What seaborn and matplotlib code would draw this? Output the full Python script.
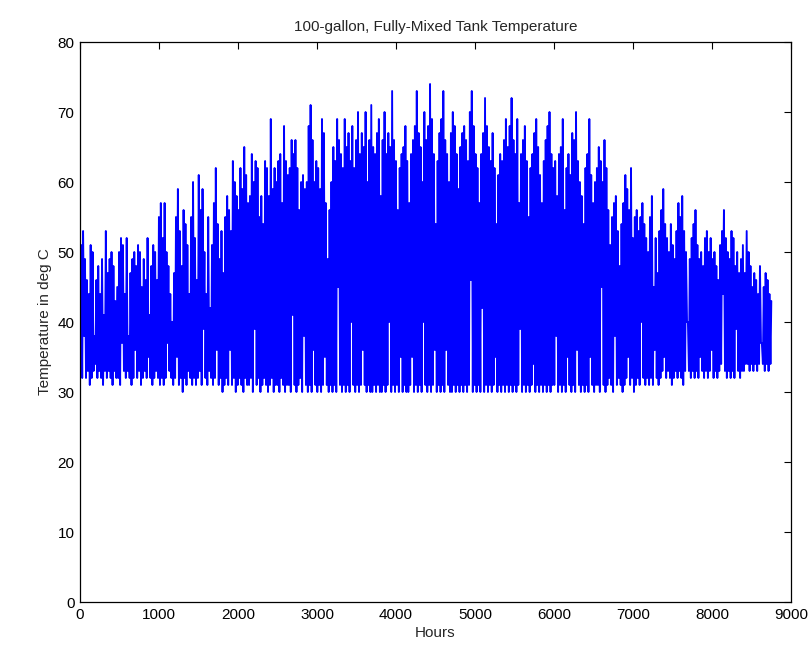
import numpy as np
import pandas as pd
import matplotlib
matplotlib.use("Agg")
import matplotlib.pyplot as plt
import seaborn as sns

# Daily maximum tank temperature (deg C), one value per day
daily_max = [
    51, 53, 49, 46, 44, 51, 50, 38, 46, 48,
    44, 49, 41, 53, 47, 49, 50, 48, 43, 45,
    50, 52, 51, 44, 52, 38, 47, 49, 50, 48,
    51, 50, 45, 49, 46, 52, 41, 48, 51, 50,
    46, 55, 57, 52, 57, 50, 48, 44, 40, 47,
    55, 59, 53, 48, 56, 54, 51, 44, 55, 60,
    52, 46, 61, 56, 59, 50, 44, 55, 42, 51,
    57, 62, 54, 49, 53, 47, 55, 58, 56, 53,
    63, 60, 58, 56, 62, 59, 65, 61, 57, 58,
    64, 60, 63, 62, 55, 58, 54, 63, 62, 58,
    69, 59, 62, 60, 63, 64, 57, 68, 63, 61,
    62, 66, 64, 66, 62, 56, 60, 61, 59, 60,
    68, 71, 66, 60, 63, 62, 59, 69, 67, 57,
    49, 56, 60, 65, 63, 69, 66, 64, 62, 69,
    65, 67, 63, 68, 62, 66, 70, 64, 67, 65,
    70, 60, 66, 71, 65, 64, 67, 69, 58, 66,
    70, 64, 67, 65, 73, 66, 63, 56, 62, 64,
    65, 68, 63, 57, 64, 66, 68, 73, 67, 65,
    60, 70, 66, 68, 74, 69, 64, 54, 63, 67,
    69, 73, 66, 64, 60, 67, 70, 68, 64, 59,
    65, 67, 68, 66, 63, 70, 73, 68, 64, 62,
    57, 64, 67, 72, 68, 65, 63, 67, 62, 54,
    61, 64, 63, 66, 69, 65, 68, 72, 66, 64,
    69, 57, 64, 66, 68, 63, 55, 62, 64, 67,
    69, 65, 61, 57, 63, 66, 68, 70, 64, 62,
    63, 58, 64, 65, 69, 56, 62, 64, 61, 67,
    66, 70, 63, 60, 58, 54, 62, 64, 69, 61,
    57, 60, 62, 65, 63, 60, 66, 62, 56, 51,
    55, 57, 58, 53, 48, 54, 57, 61, 59, 56,
    62, 52, 55, 56, 53, 55, 57, 54, 52, 50,
    55, 58, 45, 52, 47, 53, 56, 59, 54, 52,
    50, 54, 51, 49, 53, 57, 55, 58, 53, 50,
    40, 49, 52, 54, 56, 51, 49, 50, 48, 52,
    53, 50, 52, 49, 50, 48, 46, 51, 53, 56,
    52, 50, 49, 53, 52, 48, 50, 47, 49, 51,
    47, 53, 50, 48, 45, 47, 46, 44, 48, 37,
    45, 47, 46, 44, 43,
]

# Daily minimum tank temperature (deg C), one value per day
daily_min = [
    33, 32, 38, 32, 33, 31, 32, 33, 34, 32,
    33, 32, 31, 33, 32, 33, 32, 31, 33, 32,
    32, 31, 37, 33, 32, 33, 32, 31, 32, 36,
    32, 33, 31, 32, 33, 32, 35, 32, 31, 32,
    33, 32, 31, 32, 31, 32, 37, 33, 32, 31,
    32, 35, 31, 32, 30, 32, 31, 33, 32, 31,
    32, 31, 32, 33, 31, 39, 32, 31, 33, 32,
    31, 32, 36, 31, 32, 30, 31, 32, 31, 36,
    31, 32, 30, 31, 32, 31, 30, 32, 31, 31,
    32, 30, 39, 31, 32, 30, 31, 32, 31, 30,
    31, 32, 30, 31, 31, 30, 32, 31, 30, 31,
    31, 30, 41, 31, 30, 31, 32, 30, 38, 31,
    30, 31, 30, 36, 31, 30, 31, 30, 31, 35,
    31, 30, 31, 30, 31, 30, 45, 31, 30, 31,
    30, 31, 30, 40, 31, 30, 31, 30, 31, 36,
    31, 30, 31, 30, 30, 31, 30, 31, 30, 30,
    31, 30, 31, 40, 30, 31, 30, 31, 30, 35,
    30, 31, 30, 30, 31, 35, 30, 31, 30, 31,
    30, 40, 31, 30, 31, 30, 31, 36, 30, 31,
    30, 31, 30, 36, 31, 30, 30, 31, 30, 31,
    30, 31, 30, 31, 30, 31, 46, 30, 31, 30,
    31, 30, 42, 30, 31, 30, 31, 30, 31, 35,
    30, 31, 30, 31, 30, 31, 30, 31, 30, 31,
    30, 31, 39, 30, 31, 30, 31, 30, 31, 34,
    30, 31, 30, 31, 30, 31, 30, 31, 30, 31,
    31, 38, 30, 31, 30, 31, 30, 35, 31, 30,
    31, 30, 36, 31, 30, 31, 30, 31, 30, 35,
    31, 30, 31, 31, 30, 45, 31, 30, 31, 32,
    31, 30, 38, 31, 32, 31, 30, 31, 32, 35,
    31, 32, 30, 31, 32, 31, 40, 32, 31, 32,
    31, 32, 31, 36, 32, 31, 32, 33, 35, 32,
    33, 32, 31, 32, 33, 32, 33, 32, 31, 33,
    40, 33, 32, 33, 32, 33, 32, 35, 33, 32,
    33, 32, 33, 36, 32, 33, 32, 33, 34, 44,
    33, 32, 33, 32, 33, 32, 39, 33, 32, 33,
    33, 34, 34, 33, 34, 33, 34, 33, 34, 37,
    34, 33, 34, 33, 34,
]

x_ticks = [0, 1000, 2000, 3000, 4000, 5000, 6000, 7000, 8000, 9000]
y_ticks = [0, 10, 20, 30, 40, 50, 60, 70, 80]

# Build the hourly trace: morning minimum then afternoon maximum each day
n_days = len(daily_max)
days = np.arange(n_days)
hours = np.empty(2 * n_days)
temps = np.empty(2 * n_days)
hours[0::2] = days * 24 + 4
hours[1::2] = days * 24 + 15
temps[0::2] = daily_min
temps[1::2] = daily_max
df = pd.DataFrame({"Hours": hours, "Temp": temps})

sns.set_style("white")
plt.rcParams["font.family"] = ["Liberation Sans", "DejaVu Sans"]

fig = plt.figure(figsize=(8.11, 6.60), dpi=100)
ax = fig.add_axes([80 / 811, (660 - 602) / 660, (791 - 80) / 811, (602 - 42) / 660])

sns.lineplot(data=df, x="Hours", y="Temp", ax=ax, color="#0000FF",
             linewidth=1.35, estimator=None, sort=False)

ax.set_xlim(0, 9000)
ax.set_ylim(0, 80)
ax.set_xticks(x_ticks)
ax.set_yticks(y_ticks)
ax.set_xticklabels([str(t) for t in x_ticks])
ax.set_yticklabels([str(t) for t in y_ticks])
ax.tick_params(direction="in", length=5, width=0.8, top=True, right=True,
               labelsize=11, colors="black", pad=4)
for s in ax.spines.values():
    s.set_visible(True)
    s.set_color("black")
    s.set_linewidth(0.9)

ax.set_title("100-gallon, Fully-Mixed Tank Temperature", fontsize=11, pad=8)
ax.set_xlabel("Hours", fontsize=11, labelpad=3)
ax.set_ylabel("Temperature in deg C", fontsize=11, labelpad=4)

fig.savefig("out.png", dpi=100, facecolor="white")
